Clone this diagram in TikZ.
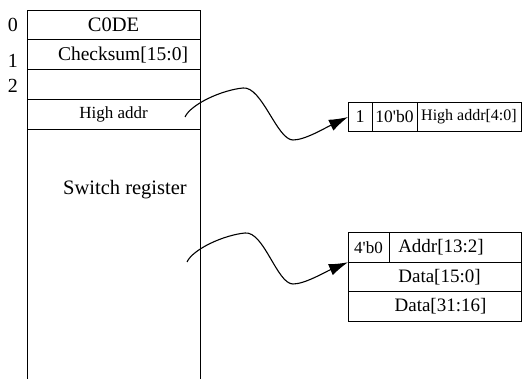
\documentclass[tikz,border=0pt]{standalone}
\usepackage{fontspec}
\setmainfont{Liberation Serif}
\usetikzlibrary{arrows.meta,positioning}

\begin{document}
\begin{tikzpicture}[x=1pt,y=-1pt,
    cell/.style={draw,line width=0.9pt,inner sep=0pt,outer sep=0pt,minimum width=173pt,minimum height=29.75pt,font=\fontsize{19.5}{19.5}\selectfont},
    idx/.style={font=\fontsize{20}{20}\selectfont},
    fld/.style={draw,line width=0.9pt,inner sep=0pt,outer sep=0pt,minimum height=29.5pt,font=\fontsize{19}{19}\selectfont},
    wiggle/.style={line width=1.1pt,-{Latex[length=19pt,width=12pt]}}]
    \useasboundingbox (0,0) rectangle (523,379);

    % switch register table
    \node[cell,font=\fontsize{20.5}{20.5}\selectfont] (r0) at (113.5,25) {C0DE};
    \node[cell,below=0pt of r0] (r1) {\hspace*{19pt}Checksum[15:0]};
    \node[cell,below=0pt of r1] (r2) {};
    \node[cell,below=0pt of r2,font=\fontsize{17}{17}\selectfont] (r3) {High addr};
    \coordinate (bot) at (0,379);
    \draw[line width=0.9pt] (r3.south west) -- (r3.south west |- bot);
    \draw[line width=0.9pt] (r3.south east) -- (r3.south east |- bot);
    \node[idx] (i0) at (13,25) {0};
    \node[idx] (i1) at (13,61) {1};
    \node[idx] (i2) at (13,86) {2};
    \node[font=\fontsize{20.5}{20.5}\selectfont] (sw) at (125,190) {Switch register};

    % high address word
    \node[fld,minimum width=24pt,font=\fontsize{18}{18}\selectfont] (h0) at (360,117) {1};
    \node[fld,minimum width=45pt,right=0pt of h0,font=\fontsize{17.5}{17.5}\selectfont] (h1) {10\textquotesingle b0};
    \node[fld,minimum width=104pt,right=0pt of h1,font=\fontsize{16}{16}\selectfont] (h2) {High addr[4:0]};

    % address/data words
    \node[fld,minimum width=41pt,font=\fontsize{17}{17}\selectfont] (d0) at (368.5,247.5) {4\textquotesingle b0};
    \node[fld,minimum width=132pt,right=0pt of d0] (d1) {Addr[13:2]\hspace*{28pt}};
    \node[fld,minimum width=173pt,anchor=north west] (d2) at (d0.south west) {\hspace*{10pt}Data[15:0]};
    \node[fld,minimum width=173pt,below=0pt of d2] (d3) {\hspace*{12pt}Data[31:16]};

    % connectors
    \coordinate (s1) at (185,117);
    \coordinate (s2) at (187,262);
    \draw[wiggle] (s1) .. controls (191,104) and (222,90) .. (243,88)
        .. controls (262,86) and (277,140) .. (293,140)
        .. controls (305,140) and (325,128) .. (h0.west);
    \draw[wiggle] (s2) .. controls (193,249) and (224,235) .. (245,233)
        .. controls (264,231) and (277,284) .. (293,284)
        .. controls (305,284) and (325,272) .. (d2.north west);
\end{tikzpicture}
\end{document}
